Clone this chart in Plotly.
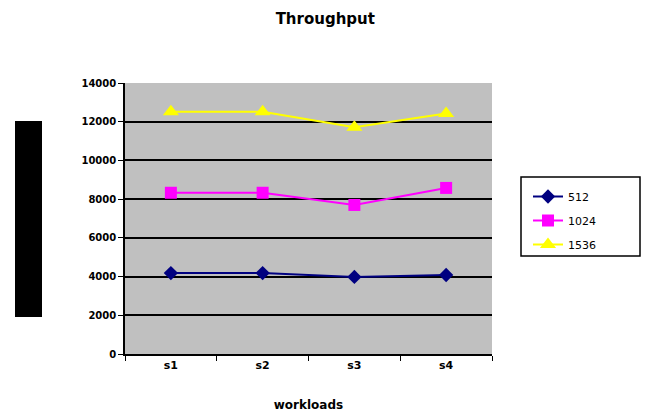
import plotly.graph_objects as go

workloads = ["s1", "s2", "s3", "s4"]
series_names = ["512", "1024", "1536"]
values_512 = [4180, 4180, 3980, 4080]
values_1024 = [8330, 8330, 7700, 8580]
values_1536 = [12520, 12520, 11720, 12430]
y_ticks = [0, 2000, 4000, 6000, 8000, 10000, 12000, 14000]

colors = ["#000080", "#FF00FF", "#FFFF00"]
symbols = ["diamond", "square", "triangle-up"]
marker_sizes = [11, 12, 14]
all_values = [values_512, values_1024, values_1536]

font_family = "DejaVu Sans, Verdana, sans-serif"
plot_w, plot_h = 367, 271

fig = go.Figure()
for name, vals, col, sym, ms in zip(series_names, all_values, colors, symbols, marker_sizes):
    fig.add_trace(go.Scatter(
        x=workloads, y=vals, name=name, mode="lines+markers",
        legendgroup=name,
        line=dict(color=col, width=2),
        marker=dict(symbol=sym, size=ms, color=col),
    ))

fig.update_layout(
    width=648, height=414,
    margin=dict(l=125, r=156, t=83, b=60),
    paper_bgcolor="white",
    plot_bgcolor="#C0C0C0",
    title=dict(text="<b>Throughput</b>", x=0.502, xanchor="center",
               y=1 - 19 / 414, yanchor="middle",
               font=dict(family=font_family, size=15, color="black")),
    font=dict(family=font_family, size=10, color="black"),
    legend=dict(x=(528 - 125) / plot_w, y=(354 - 182) / plot_h,
                xanchor="left", yanchor="top",
                borderwidth=0, bgcolor="rgba(0,0,0,0)",
                font=dict(size=11, family=font_family),
                tracegroupgap=5),
    showlegend=True,
)

fig.update_xaxes(
    type="category", tickson="boundaries", ticks="outside", ticklen=5,
    tickcolor="black", showline=True, linecolor="black", linewidth=1.5,
    showgrid=False, range=[-0.5, 3.5], automargin=False,
    tickvals=workloads, ticktext=[f"<b>{w}</b>" for w in workloads],
    title=dict(text="<b>workloads</b>", font=dict(size=12), standoff=30),
    tickfont=dict(size=11),
)
fig.update_yaxes(
    range=[0, 14000], tickvals=y_ticks, automargin=False,
    ticktext=[f"<b>{v}</b>" for v in y_ticks],
    ticks="outside", ticklen=5,
    tickcolor="black", showline=True, linecolor="black", linewidth=1.5,
    showgrid=True, gridcolor="black", gridwidth=1.5, zeroline=False,
    tickfont=dict(size=10),
)

# Legend frame
fig.add_shape(type="rect", xref="paper", yref="paper",
              x0=(521 - 125) / plot_w, x1=(640 - 125) / plot_w,
              y0=(354 - 256) / plot_h, y1=(354 - 177) / plot_h,
              fillcolor="rgba(0,0,0,0)", line=dict(color="black", width=1.5),
              layer="below")

# Filled bar covering the vertical axis title area
fig.add_shape(type="rect", xref="paper", yref="paper",
              x0=(15 - 125) / plot_w, x1=(42 - 125) / plot_w,
              y0=(354 - 317) / plot_h, y1=(354 - 121) / plot_h,
              fillcolor="black", line=dict(width=0))

fig.write_html("out.html")
